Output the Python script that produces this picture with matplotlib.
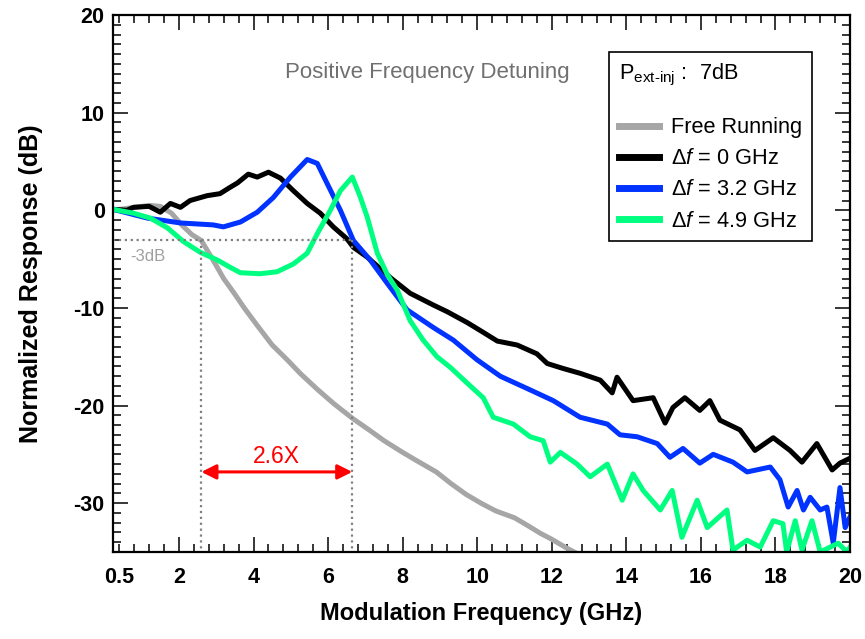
import numpy as np
import matplotlib
matplotlib.use("Agg")
import matplotlib.pyplot as plt

plt.rcParams['font.family'] = ['Liberation Sans', 'DejaVu Sans']
plt.rcParams['mathtext.fontset'] = 'custom'
plt.rcParams['mathtext.rm'] = 'Liberation Sans'
plt.rcParams['mathtext.it'] = 'Liberation Sans:italic'
plt.rcParams['mathtext.bf'] = 'Liberation Sans:bold'
plt.rcParams['axes.unicode_minus'] = False

# free running laser
free_f = [0.23, 0.8, 1.2, 1.5, 1.8, 2.1, 2.35, 2.6, 2.9, 3.2, 3.5, 3.75, 4.1, 4.5,
          4.9, 5.25, 5.7, 6.15, 6.65, 7.1, 7.5, 8.0, 8.4, 8.9, 9.3, 9.7, 10.1,
          10.5, 11.0, 11.4, 11.7, 12.0, 12.4, 12.7, 13.0]
free_db = [0.0, 0.3, 0.5, 0.4, -0.3, -1.6, -2.5, -3.1, -5.0, -7.0, -8.6, -10.0,
           -11.8, -13.8, -15.3, -16.7, -18.3, -19.8, -21.3, -22.5, -23.6, -24.8,
           -25.7, -26.8, -28.0, -29.1, -30.0, -30.8, -31.5, -32.4, -33.1, -33.7,
           -34.6, -35.2, -35.5]

# detuning 0 GHz
f0_f = [0.23, 0.6, 0.78, 1.2, 1.5, 1.77, 2.04, 2.3, 2.76, 3.1, 3.35, 3.57, 3.86,
        4.1, 4.4, 4.72, 5.07, 5.44, 5.79, 6.14, 6.5, 6.68, 7.05, 7.67, 8.2, 8.82,
        9.2, 9.73, 10.16, 10.54, 11.07, 11.6, 11.88, 12.3, 12.76, 13.3, 13.62,
        13.75, 14.18, 14.72, 15.04, 15.25, 15.57, 15.97, 16.24, 16.51, 17.05,
        17.45, 17.94, 18.39, 18.71, 19.11, 19.52, 19.73, 20.0]
f0_db = [0.1, 0.0, 0.3, 0.4, -0.2, 0.7, 0.3, 1.0, 1.5, 1.7, 2.3, 2.8, 3.7, 3.4,
         3.9, 3.3, 2.0, 0.7, -0.3, -1.7, -2.9, -3.8, -4.8, -6.9, -8.5, -9.7,
         -10.4, -11.5, -12.5, -13.4, -13.8, -14.7, -15.7, -16.2, -16.7, -17.4,
         -18.7, -17.1, -19.5, -19.2, -21.8, -20.2, -19.2, -20.5, -19.5, -21.5,
         -22.5, -24.6, -23.3, -24.6, -25.8, -23.9, -26.6, -25.9, -25.4]

# detuning 3.2 GHz
f32_f = [0.23, 1.15, 2.04, 2.92, 3.19, 3.65, 4.1, 4.53, 4.99, 5.44, 5.71, 5.98,
         6.33, 6.68, 7.13, 7.59, 8.12, 8.82, 9.36, 9.99, 10.62, 11.42, 12.04,
         12.76, 13.49, 13.83, 14.29, 14.83, 15.17, 15.52, 15.97, 16.33, 16.86,
         17.24, 17.86, 18.12, 18.34, 18.58, 18.75, 18.93, 19.2, 19.38, 19.55,
         19.73, 19.87, 20.0]
f32_db = [0.1, -0.8, -1.3, -1.5, -1.7, -1.2, -0.2, 1.3, 3.4, 5.2, 4.8, 2.7, 0.0,
          -3.1, -5.1, -7.5, -10.2, -12.0, -13.3, -15.3, -17.0, -18.4, -19.5,
          -21.2, -21.9, -23.0, -23.2, -23.9, -25.3, -24.4, -25.9, -25.0, -25.8,
          -26.8, -26.3, -27.6, -30.4, -28.7, -30.7, -29.4, -30.7, -30.4, -34.1,
          -28.4, -32.5, -31.4]

# detuning 4.9 GHz
f49_f = [0.23, 0.78, 1.23, 1.69, 2.12, 2.57, 3.03, 3.4, 3.65, 4.18, 4.63, 5.07,
         5.44, 5.71, 6.06, 6.33, 6.65, 6.86, 7.05, 7.32, 7.59, 7.86, 8.2, 8.55,
         8.92, 9.28, 9.73, 10.16, 10.43, 10.97, 11.42, 11.77, 11.96, 12.23,
         12.68, 13.03, 13.49, 13.89, 14.18, 14.45, 14.91, 15.23, 15.49, 15.9,
         16.17, 16.7, 16.86, 17.24, 17.59, 17.94, 18.2, 18.3, 18.53, 18.71,
         18.98, 19.2, 19.68, 19.92, 20.0]
f49_db = [0.1, -0.3, -0.8, -1.8, -3.2, -4.3, -5.1, -5.9, -6.4, -6.5, -6.3, -5.5,
          -4.4, -2.4, 0.0, 2.0, 3.4, 1.4, -0.7, -4.4, -6.6, -8.2, -11.3, -13.3,
          -15.0, -16.1, -17.7, -19.2, -21.2, -21.9, -23.2, -23.6, -25.8, -24.8,
          -26.0, -27.3, -26.0, -29.7, -27.0, -28.7, -30.7, -28.7, -33.5, -29.7,
          -32.5, -30.7, -34.8, -33.8, -34.5, -31.8, -32.1, -35.0, -31.8, -34.8,
          -31.8, -35.0, -34.1, -35.0, -34.5]

labels = ['Free Running', r'$\mathit{\Delta f}$ = 0 GHz',
          r'$\mathit{\Delta f}$ = 3.2 GHz', r'$\mathit{\Delta f}$ = 4.9 GHz']
colors = ['#a6a6a6', 'black', '#0033ff', '#00ff80']

xtick_pos = [0.4, 2, 4, 6, 8, 10, 12, 14, 16, 18, 20]
xtick_labels = ['0.5', '2', '4', '6', '8', '10', '12', '14', '16', '18', '20']
ytick_pos = [-30, -20, -10, 0, 10, 20]

f3db_free = 2.6
f3db_inj = 6.65

fig = plt.figure(figsize=(8.65, 6.39), dpi=100)
ax = fig.add_axes([0.1306, 0.1362, 0.8521, 0.8403])

series = [(free_f, free_db), (f0_f, f0_db), (f32_f, f32_db), (f49_f, f49_db)]
handles = []
for (fx, fy), c, lab in zip(series, colors, labels):
    h, = ax.plot(fx, fy, color=c, lw=3.6, label=lab, solid_joinstyle='round')
    handles.append(h)

# -3 dB guide lines
ax.plot([0.23, f3db_inj], [-3, -3], ls=':', color='#808080', lw=1.6)
ax.plot([f3db_free, f3db_free], [-3, -35], ls=':', color='#808080', lw=1.6)
ax.plot([f3db_inj, f3db_inj], [-3, -35], ls=':', color='#808080', lw=1.6)
ax.text(0.7, -4.7, '-3dB', color='#a0a0a0', fontsize=12, va='center')

ax.annotate('', xy=(f3db_inj, -26.8), xytext=(f3db_free, -26.8),
            arrowprops=dict(arrowstyle='<|-|>', color='red', lw=2.2,
                            mutation_scale=22, shrinkA=0, shrinkB=0))
ax.text((f3db_free + f3db_inj) / 2, -25.9, '2.6X', color='red', fontsize=16.5,
        ha='center', va='baseline')

ax.text(8.65, 14.1, 'Positive Frequency Detuning', color='#707070',
        fontsize=16, ha='center', va='center')

ax.set_xlim(0.23, 20)
ax.set_ylim(-35, 20)
ax.set_xticks(xtick_pos)
ax.set_xticklabels(xtick_labels)
ax.set_xticks(np.round(np.arange(0.4, 20, 0.4), 2), minor=True)
ax.set_yticks(ytick_pos)
ax.set_yticks(np.arange(-35, 21, 1), minor=True)
ax.tick_params(which='both', direction='in', top=True, right=True, width=1.1)
ax.tick_params(which='major', length=11)
ax.tick_params(which='minor', length=6)
ax.tick_params(axis='x', pad=11)
ax.tick_params(axis='y', pad=6)
for lab in ax.get_xticklabels() + ax.get_yticklabels():
    lab.set_fontweight('bold')
    lab.set_fontsize(15.5)
t0 = ax.xaxis.get_major_ticks()[0]
t0.tick1line.set_markersize(6)
t0.tick2line.set_markersize(6)
for sp in ax.spines.values():
    sp.set_linewidth(1.6)

ax.set_xlabel('Modulation Frequency (GHz)', fontsize=17, fontweight='bold',
              labelpad=10)
ax.set_ylabel('Normalized Response (dB)', fontsize=18, fontweight='bold',
              labelpad=22)

leg = ax.legend(handles, labels,
                title='P$_{\\text{ext-inj}}$ :  7dB\n', title_fontsize=15.7,
                fontsize=15.7, loc='upper left', bbox_to_anchor=(0.673, 0.931),
                alignment='left', frameon=True, fancybox=False, framealpha=1,
                edgecolor='black', handlelength=1.85, handletextpad=0.55,
                labelspacing=0.46, borderpad=0.45, borderaxespad=0)
leg.get_title().set_linespacing(0.9)
leg.get_frame().set_linewidth(1.2)
for lh in leg.get_lines():
    lh.set_linewidth(5)

fig.savefig('out.png', dpi=100)
